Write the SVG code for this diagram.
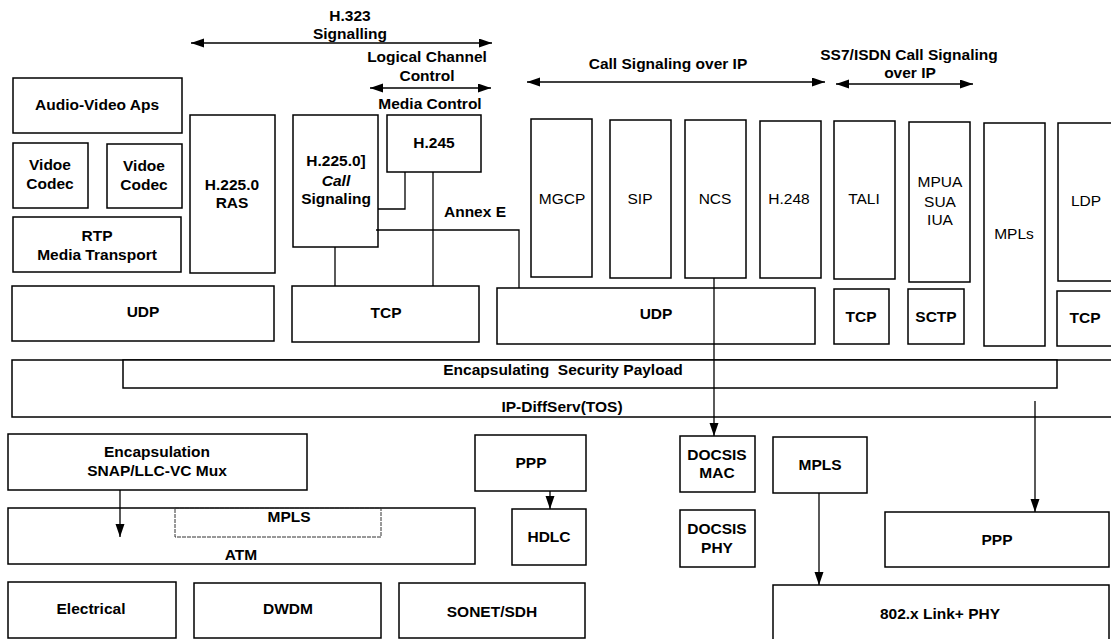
<svg xmlns="http://www.w3.org/2000/svg" width="1111" height="639" viewBox="0 0 1111 639">
<style>
.b{fill:#fff;stroke:#000;stroke-width:1.5}
.t{font-family:"Liberation Sans",Arial,sans-serif;font-size:15.5px;font-weight:bold;text-anchor:middle;fill:#000}
.n{font-family:"Liberation Sans",Arial,sans-serif;font-size:15.5px;font-weight:normal;text-anchor:middle;fill:#000}
.c{fill:none;stroke:#000;stroke-width:1.3}
.a{fill:none;stroke:#000;stroke-width:1.5}
</style>
<defs>
<marker id="ah" markerUnits="userSpaceOnUse" markerWidth="13" markerHeight="10" refX="13" refY="4.5" orient="auto-start-reverse">
<path d="M0,0 L13,4.5 L0,9 z" fill="#000"/>
</marker>
</defs>
<rect width="1111" height="639" fill="#fff"/>

<g id="ip-diffserv"><rect class="b" x="12" y="360" width="1105" height="57"/><text class="t" x="562" y="412">IP-DiffServ(TOS)</text></g>
<g id="esp"><rect class="b" x="123" y="360" width="934" height="28"/><text class="t" x="563" y="375">Encapsulating&#160; Security Payload</text></g>

<g id="audio-video"><rect class="b" x="13" y="78" width="169" height="55"/><text class="t" x="97" y="110">Audio-Video Aps</text></g>
<g id="codec1"><rect class="b" x="13" y="143" width="75" height="65"/><text class="t" x="50" y="170">Vidoe</text><text class="t" x="50" y="189">Codec</text></g>
<g id="codec2"><rect class="b" x="107" y="144" width="75" height="64"/><text class="t" x="144" y="171">Vidoe</text><text class="t" x="144" y="190">Codec</text></g>
<g id="rtp"><rect class="b" x="13" y="217" width="168" height="55"/><text class="t" x="97" y="241">RTP</text><text class="t" x="97" y="260">Media Transport</text></g>
<g id="ras"><rect class="b" x="190" y="115" width="85" height="158"/><text class="t" x="232" y="190">H.225.0</text><text class="t" x="232" y="208">RAS</text></g>
<g id="call-sig"><rect class="b" x="293" y="115" width="85" height="132"/><text class="t" x="336" y="166">H.225.0]</text><text class="t" x="336" y="186" font-style="italic">Call</text><text class="t" x="336" y="204">Signaling</text></g>
<g id="h245"><rect class="b" x="387" y="115" width="94" height="57"/><text class="t" x="434" y="148">H.245</text></g>

<g id="mgcp"><rect class="b" x="531" y="119" width="61" height="158"/><text class="n" x="562" y="204">MGCP</text></g>
<g id="sip"><rect class="b" x="610" y="120" width="61" height="158"/><text class="n" x="640" y="204">SIP</text></g>
<g id="ncs"><rect class="b" x="685" y="120" width="61" height="158"/><text class="n" x="715" y="204">NCS</text></g>
<g id="h248"><rect class="b" x="760" y="121" width="61" height="157"/><text class="n" x="789" y="204">H.248</text></g>
<g id="tali"><rect class="b" x="834" y="121" width="61" height="158"/><text class="n" x="864" y="204">TALI</text></g>
<g id="mpua"><rect class="b" x="909" y="122" width="61" height="160"/><text class="n" x="940" y="187">MPUA</text><text class="n" x="940" y="207">SUA</text><text class="n" x="940" y="225">IUA</text></g>
<g id="mpls-col"><rect class="b" x="984" y="123" width="61" height="223"/><text class="n" x="1014" y="239">MPLs</text></g>
<g id="ldp"><rect class="b" x="1058" y="123" width="60" height="158"/><text class="n" x="1086" y="206">LDP</text></g>

<g id="udp1"><rect class="b" x="12" y="286" width="262" height="55"/><text class="t" x="143" y="317">UDP</text></g>
<g id="tcp1"><rect class="b" x="292" y="286" width="187" height="56"/><text class="t" x="386" y="318">TCP</text></g>
<g id="udp2"><rect class="b" x="497" y="288" width="318" height="56"/><text class="t" x="656" y="319">UDP</text></g>
<g id="tcp2"><rect class="b" x="834" y="289" width="55" height="55"/><text class="t" x="861" y="322">TCP</text></g>
<g id="sctp"><rect class="b" x="908" y="289" width="56" height="55"/><text class="t" x="936" y="322">SCTP</text></g>
<g id="tcp3"><rect class="b" x="1057" y="291" width="60" height="55"/><text class="t" x="1085" y="323">TCP</text></g>

<g id="encap"><rect class="b" x="8" y="434" width="299" height="56"/><text class="t" x="157" y="457">Encapsulation</text><text class="t" x="157" y="476">SNAP/LLC-VC Mux</text></g>
<g id="atm"><rect class="b" x="8" y="508" width="467" height="56"/><text class="t" x="241" y="560">ATM</text></g>
<g id="mpls-atm"><rect x="175" y="508" width="206" height="29" fill="none" stroke="#333" stroke-width="1" stroke-dasharray="4,1"/><text class="t" x="289" y="522">MPLS</text></g>
<g id="ppp1"><rect class="b" x="475" y="435" width="111" height="56"/><text class="t" x="531" y="468">PPP</text></g>
<g id="hdlc"><rect class="b" x="512" y="509" width="74" height="56"/><text class="t" x="549" y="542">HDLC</text></g>
<g id="docsis-mac"><rect class="b" x="680" y="436" width="75" height="56"/><text class="t" x="717" y="460">DOCSIS</text><text class="t" x="717" y="478">MAC</text></g>
<g id="docsis-phy"><rect class="b" x="680" y="510" width="75" height="57"/><text class="t" x="717" y="534">DOCSIS</text><text class="t" x="717" y="553">PHY</text></g>
<g id="mpls2"><rect class="b" x="773" y="437" width="94" height="56"/><text class="t" x="820" y="470">MPLS</text></g>
<g id="ppp2"><rect class="b" x="885" y="512" width="224" height="55"/><text class="t" x="997" y="545">PPP</text></g>
<g id="electrical"><rect class="b" x="8" y="582" width="168" height="56"/><text class="t" x="91" y="614">Electrical</text></g>
<g id="dwdm"><rect class="b" x="194" y="583" width="187" height="55"/><text class="t" x="288" y="614">DWDM</text></g>
<g id="sonet"><rect class="b" x="399" y="583" width="186" height="55"/><text class="t" x="492" y="617">SONET/SDH</text></g>
<g id="link802"><rect class="b" x="773" y="585" width="336" height="56"/><text class="t" x="940" y="619">802.x Link+ PHY</text></g>

<g id="labels">
<text class="t" x="350" y="21">H.323</text><text class="t" x="350" y="39">Signalling</text>
<text class="t" x="427" y="62">Logical Channel</text><text class="t" x="427" y="81">Control</text>
<text class="t" x="430" y="109">Media Control</text>
<text class="t" x="475" y="217">Annex E</text>
<text class="t" x="668" y="69">Call Signaling over IP</text>
<text class="t" x="909" y="60">SS7/ISDN Call Signaling</text><text class="t" x="910" y="78">over IP</text>
</g>

<g id="connectors">
<line class="a" x1="191" y1="43" x2="492" y2="43" marker-start="url(#ah)" marker-end="url(#ah)"/>
<line class="a" x1="370" y1="88" x2="491" y2="88" marker-start="url(#ah)" marker-end="url(#ah)"/>
<line class="a" x1="527" y1="82" x2="825" y2="82" marker-start="url(#ah)" marker-end="url(#ah)"/>
<line class="a" x1="836" y1="84" x2="973" y2="84" marker-start="url(#ah)" marker-end="url(#ah)"/>
<polyline class="c" points="405,172 405,209 378,209"/>
<line class="c" x1="433" y1="172" x2="433" y2="286"/>
<line class="c" x1="335" y1="247" x2="335" y2="286"/>
<polyline class="c" points="376,230 519,230 519,288"/>
<line class="c" x1="714" y1="278" x2="714" y2="436" marker-end="url(#ah)"/>
<line class="c" x1="1035" y1="401" x2="1035" y2="512" marker-end="url(#ah)"/>
<line class="c" x1="120" y1="490" x2="120" y2="537" marker-end="url(#ah)"/>
<line class="c" x1="550" y1="491" x2="550" y2="509" marker-end="url(#ah)"/>
<line class="c" x1="819" y1="493" x2="819" y2="585" marker-end="url(#ah)"/>
</g>
</svg>
